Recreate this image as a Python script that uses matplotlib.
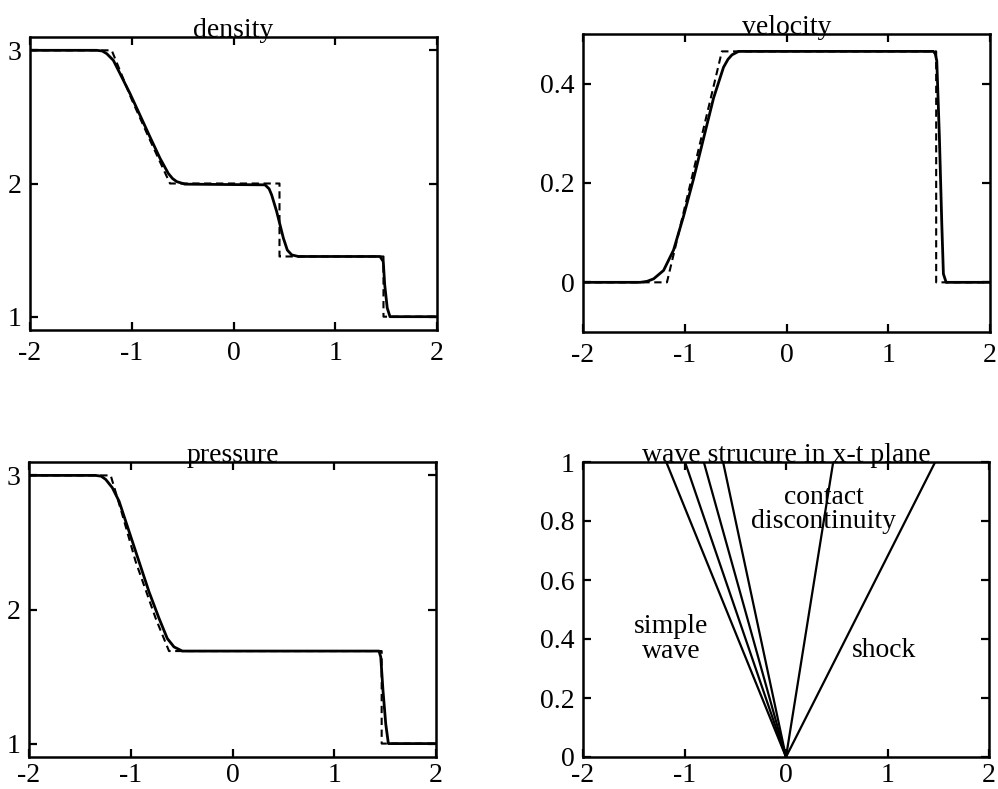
import numpy as np
import matplotlib
matplotlib.use("Agg")
import matplotlib.pyplot as plt
from matplotlib.ticker import FuncFormatter

plt.rcParams['font.family'] = ['Liberation Serif', 'DejaVu Serif']
plt.rcParams['axes.unicode_minus'] = False

# density: exact (dashed) and numerical (solid)
rho_exact_x = [-2.0, -1.197, -1.0, -0.821, -0.624, 0.452, 0.452, 1.474, 1.474, 2.0]
rho_exact_y = [3.0, 3.0, 2.63, 2.326, 2.0, 2.0, 1.452, 1.452, 1.0, 1.0]
rho_num_x = [-2.0, -1.345, -1.29, -1.246, -1.181, -1.115, -1.017, -0.919, -0.821, -0.722,
             -0.641, -0.6, -0.558, -0.477, 0.31, 0.35, 0.375, 0.424, 0.457, 0.49, 0.529, 0.572,
             0.637, 1.44, 1.472, 1.486, 1.511, 1.538, 2.0]
rho_num_y = [3.0, 3.0, 2.995, 2.975, 2.925, 2.825, 2.675, 2.513, 2.35, 2.189,
             2.076, 2.038, 2.014, 1.995, 1.99, 1.96, 1.914, 1.79, 1.69, 1.59, 1.5, 1.464,
             1.452, 1.452, 1.414, 1.24, 1.065, 1.0, 1.0]

# velocity
u_exact_x = [-2.0, -1.175, -0.635, 1.471, 1.471, 2.0]
u_exact_y = [0.0, 0.0, 0.465, 0.465, 0.0, 0.0]
u_num_x = [-2.0, -1.437, -1.37, -1.306, -1.208, -1.11, -1.012, -0.914, -0.815, -0.717,
           -0.619, -0.575, -0.536, -0.471, 1.444, 1.462, 1.477, 1.503, 1.526, 1.542, 1.569, 2.0]
u_num_y = [0.0, 0.0, 0.002, 0.007, 0.024, 0.065, 0.133, 0.208, 0.29, 0.371,
           0.433, 0.449, 0.458, 0.465, 0.465, 0.46, 0.446, 0.29, 0.119, 0.017, 0.0, 0.0]

# pressure
p_exact_x = [-2.0, -1.197, -1.083, -0.952, -0.755, -0.624, 1.466, 1.466, 2.0]
p_exact_y = [3.0, 3.0, 2.708, 2.358, 1.934, 1.69, 1.69, 1.0, 1.0]
p_num_x = [-2.0, -1.345, -1.29, -1.246, -1.181, -1.115, -1.017, -0.919, -0.821, -0.722,
           -0.641, -0.575, -0.493, 1.44, 1.457, 1.479, 1.506, 1.532, 2.0]
p_num_y = [3.0, 3.0, 2.994, 2.97, 2.908, 2.808, 2.583, 2.358, 2.133, 1.934,
           1.784, 1.721, 1.69, 1.69, 1.646, 1.396, 1.147, 1.0, 1.0]

# wave structure: x position of each wave at t = 1
fan_x = [-1.18, -0.995, -0.81, -0.62]
contact_x = 0.465
shock_x = 1.47
labels = [("simple\nwave", -1.13, 0.40), ("contact\ndiscontinuity", 0.37, 0.84),
          ("shock", 0.97, 0.36)]

W, H = 998, 789
fig = plt.figure(figsize=(W / 100, H / 100), dpi=100)


def box(x0, y0, x1, y1):
    return [x0 / W, 1 - y1 / H, (x1 - x0) / W, (y1 - y0) / H]


fmt = FuncFormatter(lambda v, pos: "%g" % v)
FS = 20


def style(ax, title, ylim, yticks, xpad=8):
    ax.set_xlim(-2, 2)
    ax.set_ylim(*ylim)
    ax.set_xticks([-2, -1, 0, 1, 2])
    ax.set_yticks(yticks)
    ax.xaxis.set_major_formatter(fmt)
    ax.yaxis.set_major_formatter(fmt)
    ax.tick_params(direction='in', top=True, right=True, length=6, width=1.6,
                   labelsize=FS, color='black')
    ax.tick_params(axis='y', pad=6)
    ax.tick_params(axis='x', pad=xpad)
    for s in ax.spines.values():
        s.set_linewidth(1.8)
    ax.set_title(title, fontsize=FS, pad=0)


ax1 = fig.add_axes(box(30, 37, 437, 330))
ax1.plot(rho_exact_x, rho_exact_y, color='k', lw=1.5, ls=(0, (3.5, 2.2)))
ax1.plot(rho_num_x, rho_num_y, color='k', lw=2.0)
style(ax1, "density", (0.9, 3.1), [1, 2, 3])

ax2 = fig.add_axes(box(583, 34, 990, 332))
ax2.plot(u_exact_x, u_exact_y, color='k', lw=1.5, ls=(0, (3.5, 2.2)))
ax2.plot(u_num_x, u_num_y, color='k', lw=2.0)
style(ax2, "velocity", (-0.1, 0.5), [0, 0.2, 0.4])

ax3 = fig.add_axes(box(29, 462, 436, 757))
ax3.plot(p_exact_x, p_exact_y, color='k', lw=1.5, ls=(0, (3.5, 2.2)))
ax3.plot(p_num_x, p_num_y, color='k', lw=2.0)
style(ax3, "pressure", (0.9, 3.1), [1, 2, 3], xpad=4)

ax4 = fig.add_axes(box(583, 462, 989, 757))
for xe in fan_x + [contact_x, shock_x]:
    ax4.plot([0, xe], [0, 1], color='k', lw=1.6)
for txt, tx, ty in labels:
    ax4.text(tx, ty, txt, ha='center', va='center', fontsize=FS, linespacing=0.95)
style(ax4, "wave strucure in x-t plane", (0, 1), [0, 0.2, 0.4, 0.6, 0.8, 1], xpad=4)

fig.savefig("out.png", dpi=100)
